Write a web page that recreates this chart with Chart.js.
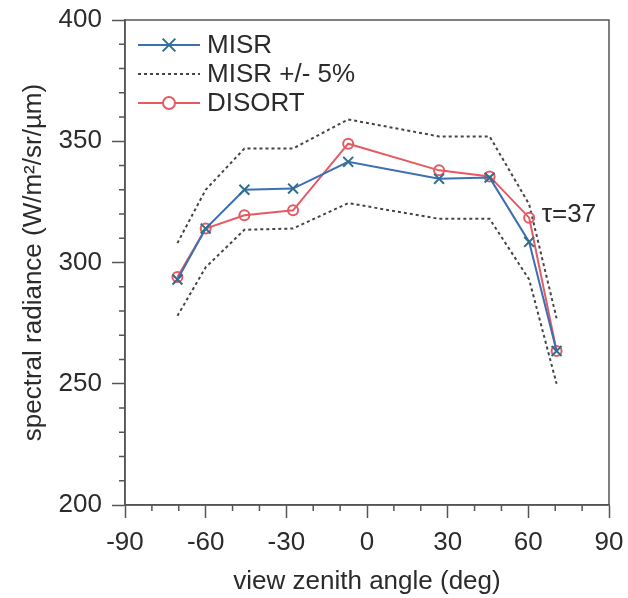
<!DOCTYPE html>
<html>
<head>
<meta charset="utf-8">
<title>spectral radiance vs view zenith angle</title>
<script src="https://cdn.jsdelivr.net/npm/chart.js@4.4.1/dist/chart.umd.min.js"></script>
<style>
  html, body { margin: 0; padding: 0; background: #fff; }
  canvas { display: block; }
</style>
</head>
<body>
<canvas id="chart" width="628" height="598"></canvas>
<script>
// view zenith angles of the nine cameras (deg)
const angles = [-70.5, -60, -45.6, -27.5, -7, 26.8, 45.6, 60.3, 70.5];

// spectral radiance, W/m2/sr/um
const misr = [293, 314, 330, 330.5, 341.5, 334.5, 335, 308.5, 263.5];
const misrUpper = [308, 330, 347, 347, 359, 352, 352, 324, 277];
const misrLower = [278, 298, 313.5, 314, 324.5, 318, 318, 293, 250];
const disort = [294, 314, 319.5, 321.5, 349, 338, 335.5, 318.5, 263.5];

const xTicks = [-90, -60, -30, 0, 30, 60, 90];
const yTicks = [200, 250, 300, 350, 400];

const tauLabel = 'τ=37';
const tauAt = { x: 65, y: 319.5 };

const axisColor = '#555';
const textColor = '#2b2b2b';
const blue = '#3d6fb3';
const crossColor = '#2f6f8c';
const red = '#e65a64';
const dotted = '#444';
const font = "26px 'Liberation Sans', Arial, sans-serif";

Chart.defaults.font.family = "'Liberation Sans', Arial, Helvetica, sans-serif";
Chart.defaults.font.size = 26;
Chart.defaults.color = textColor;

function pairs(ys) {
  return angles.map((a, i) => ({ x: a, y: ys[i] }));
}

// frame, minor ticks and the tau note
const framePlugin = {
  id: 'frame',
  afterDraw(chart) {
    const { ctx, chartArea: a, scales } = chart;
    const x = scales.x, y = scales.y;
    ctx.save();
    ctx.strokeStyle = axisColor;
    ctx.lineWidth = 1.5;
    ctx.strokeRect(a.left, a.top, a.right - a.left, a.bottom - a.top);

    ctx.beginPath();
    for (let v = -90; v <= 90; v += 10) {
      if (v % 30 === 0) continue;
      const px = x.getPixelForValue(v);
      ctx.moveTo(px, a.bottom);
      ctx.lineTo(px, a.bottom + 6);
    }
    for (let v = 200; v <= 400; v += 10) {
      if (v % 50 === 0) continue;
      const py = y.getPixelForValue(v);
      ctx.moveTo(a.left, py);
      ctx.lineTo(a.left - 6, py);
    }
    ctx.stroke();

    ctx.fillStyle = textColor;
    ctx.font = font;
    ctx.textAlign = 'left';
    ctx.textBaseline = 'middle';
    ctx.fillText(tauLabel, x.getPixelForValue(tauAt.x), y.getPixelForValue(tauAt.y));
    ctx.restore();
  }
};

// legend drawn inside the plot, top left
const insideLegend = {
  id: 'insideLegend',
  afterDraw(chart) {
    const { ctx, chartArea: a } = chart;
    const rows = [0, 1, 3].map(i => chart.data.datasets[i]);
    const names = ['MISR', 'MISR +/- 5%', 'DISORT'];
    ctx.save();
    rows.forEach((ds, i) => {
      const cy = a.top + 25 + i * 29;
      const x0 = a.left + 13, x1 = a.left + 75, xm = (x0 + x1) / 2;
      ctx.strokeStyle = ds.borderColor;
      ctx.lineWidth = ds.borderWidth;
      ctx.setLineDash(ds.borderDash || []);
      ctx.beginPath();
      ctx.moveTo(x0, cy);
      ctx.lineTo(x1, cy);
      ctx.stroke();
      ctx.setLineDash([]);
      if (ds.pointRadius > 0) {
        ctx.strokeStyle = ds.pointBorderColor || ds.borderColor;
        ctx.fillStyle = '#fff';
        ctx.lineWidth = ds.pointBorderWidth;
        Chart.helpers.drawPoint(ctx, {
          pointStyle: ds.pointStyle,
          radius: ds.pointStyle === 'crossRot' ? 9 : 6,
          borderWidth: ds.pointBorderWidth
        }, xm, cy);
      }
      ctx.fillStyle = textColor;
      ctx.font = font;
      ctx.textAlign = 'left';
      ctx.textBaseline = 'middle';
      ctx.fillText(names[i], a.left + 82, cy + 1);
    });
    ctx.restore();
  }
};

new Chart(document.getElementById('chart'), {
  type: 'line',
  data: {
    datasets: [
      {
        label: 'MISR',
        data: pairs(misr),
        borderColor: blue,
        backgroundColor: blue,
        borderWidth: 2,
        pointStyle: 'crossRot',
        pointRadius: 7,
        pointBorderWidth: 2,
        pointBorderColor: crossColor,
        order: 1
      },
      {
        label: 'MISR +5%',
        data: pairs(misrUpper),
        borderColor: dotted,
        borderWidth: 2,
        borderDash: [3, 3],
        pointRadius: 0,
        order: 3
      },
      {
        label: 'MISR -5%',
        data: pairs(misrLower),
        borderColor: dotted,
        borderWidth: 2,
        borderDash: [3, 3],
        pointRadius: 0,
        order: 3
      },
      {
        label: 'DISORT',
        data: pairs(disort),
        borderColor: red,
        backgroundColor: 'rgba(255,255,255,0)',
        borderWidth: 2,
        pointStyle: 'circle',
        pointRadius: 5,
        pointBorderWidth: 2,
        order: 2
      }
    ]
  },
  options: {
    responsive: false,
    animation: false,
    layout: { padding: { top: 20, right: 19, left: 0, bottom: 0 } },
    plugins: {
      legend: { display: false },
      tooltip: { enabled: false }
    },
    scales: {
      x: {
        type: 'linear',
        min: -90,
        max: 90,
        afterBuildTicks: s => { s.ticks = xTicks.map(v => ({ value: v })); },
        afterFit: s => {
          s.height = 93;
          s.paddingLeft = 0;
          s.paddingRight = 0;
        },
        grid: { drawOnChartArea: false, tickLength: 13, tickWidth: 1.5, tickColor: axisColor },
        border: { color: axisColor, width: 1.5 },
        ticks: { padding: 9, color: textColor, font: { size: 26 }, maxRotation: 0 },
        title: {
          display: true,
          text: 'view zenith angle (deg)',
          color: textColor,
          font: { size: 26, lineHeight: 1 },
          padding: { top: 0, bottom: 3 }
        }
      },
      y: {
        type: 'linear',
        min: 200,
        max: 400,
        afterBuildTicks: s => { s.ticks = yTicks.map(v => ({ value: v })); },
        afterFit: s => {
          s.width = 125;
          s.paddingTop = 0;
          s.paddingBottom = 0;
        },
        grid: { drawOnChartArea: false, tickLength: 13, tickWidth: 1.5, tickColor: axisColor },
        border: { color: axisColor, width: 1.5 },
        ticks: { padding: 10, color: textColor, font: { size: 26 } },
        title: {
          display: true,
          text: 'spectral radiance (W/m²/sr/µm)',
          color: textColor,
          font: { size: 26, lineHeight: 1 },
          padding: { top: 21, bottom: 0 }
        }
      }
    }
  },
  plugins: [framePlugin, insideLegend]
});
</script>
</body>
</html>
